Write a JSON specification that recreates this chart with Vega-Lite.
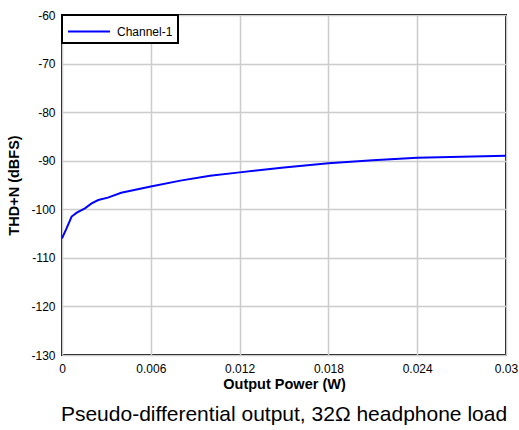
{
  "$schema": "https://vega.github.io/schema/vega-lite/v6.json",
  "autosize": {"type": "none"},
  "width": 444,
  "height": 340,
  "padding": {"left": 62, "top": 15, "right": 13, "bottom": 75},
  "background": "white",
  "config": {
    "font": "Liberation Sans",
    "view": {"stroke": "black", "strokeWidth": 2}
  },
  "title": {
    "text": "Pseudo-differential output, 32Ω headphone load",
    "orient": "bottom",
    "anchor": "middle",
    "fontSize": 21,
    "fontWeight": "normal",
    "color": "black",
    "offset": 13
  },
  "data": {
    "values": [
      {"p": 0.0, "thd": -106.0, "c": "Channel-1"},
      {"p": 0.0003, "thd": -104.0, "c": "Channel-1"},
      {"p": 0.00065, "thd": -101.5, "c": "Channel-1"},
      {"p": 0.001, "thd": -100.7, "c": "Channel-1"},
      {"p": 0.00155, "thd": -99.8, "c": "Channel-1"},
      {"p": 0.002, "thd": -98.8, "c": "Channel-1"},
      {"p": 0.00245, "thd": -98.1, "c": "Channel-1"},
      {"p": 0.0031, "thd": -97.6, "c": "Channel-1"},
      {"p": 0.004, "thd": -96.6, "c": "Channel-1"},
      {"p": 0.006, "thd": -95.3, "c": "Channel-1"},
      {"p": 0.008, "thd": -94.1, "c": "Channel-1"},
      {"p": 0.01, "thd": -93.1, "c": "Channel-1"},
      {"p": 0.012, "thd": -92.4, "c": "Channel-1"},
      {"p": 0.015, "thd": -91.4, "c": "Channel-1"},
      {"p": 0.018, "thd": -90.5, "c": "Channel-1"},
      {"p": 0.021, "thd": -89.9, "c": "Channel-1"},
      {"p": 0.024, "thd": -89.4, "c": "Channel-1"},
      {"p": 0.027, "thd": -89.2, "c": "Channel-1"},
      {"p": 0.03, "thd": -89.0, "c": "Channel-1"}
    ]
  },
  "mark": {"type": "line", "strokeWidth": 2, "clip": true},
  "encoding": {
    "x": {
      "field": "p",
      "type": "quantitative",
      "title": "Output Power (W)",
      "scale": {"domain": [0, 0.03], "nice": false},
      "axis": {
        "values": [0, 0.006, 0.012, 0.018, 0.024, 0.03],
        "format": "~g",
        "grid": true,
        "gridColor": "#cccccc",
        "gridWidth": 1.5,
        "domain": false,
        "ticks": false,
        "labelFontSize": 12,
        "labelColor": "black",
        "labelPadding": 8,
        "labelFlush": false,
        "titleFontSize": 14.5,
        "titleFontWeight": "bold",
        "titleColor": "black",
        "titlePadding": 3
      }
    },
    "y": {
      "field": "thd",
      "type": "quantitative",
      "title": "THD+N (dBFS)",
      "scale": {"domain": [-130, -60], "nice": false},
      "axis": {
        "values": [-130, -120, -110, -100, -90, -80, -70, -60],
        "labelExpr": "replace(datum.label, '−', '-')",
        "grid": true,
        "gridColor": "#cccccc",
        "gridWidth": 1.5,
        "domain": false,
        "ticks": false,
        "labelFontSize": 12,
        "labelColor": "black",
        "labelPadding": 7,
        "labelFlush": false,
        "titleFontSize": 14.5,
        "titleFontWeight": "bold",
        "titleColor": "black",
        "titlePadding": 9
      }
    },
    "color": {
      "field": "c",
      "type": "nominal",
      "scale": {"range": ["#0000ff"]},
      "legend": {
        "title": null,
        "orient": "top-left",
        "offset": 0,
        "symbolType": "M-1,0L3,0",
        "symbolSize": 441,
        "symbolStrokeWidth": 2,
        "symbolFillColor": "transparent",
        "labelFontSize": 12,
        "labelOffset": 27,
        "labelColor": "black",
        "strokeColor": "black",
        "fillColor": "white",
        "padding": 5,
        "cornerRadius": 0,
        "encode": {"legend": {"update": {"strokeWidth": {"value": 2}}}}
      }
    }
  }
}
